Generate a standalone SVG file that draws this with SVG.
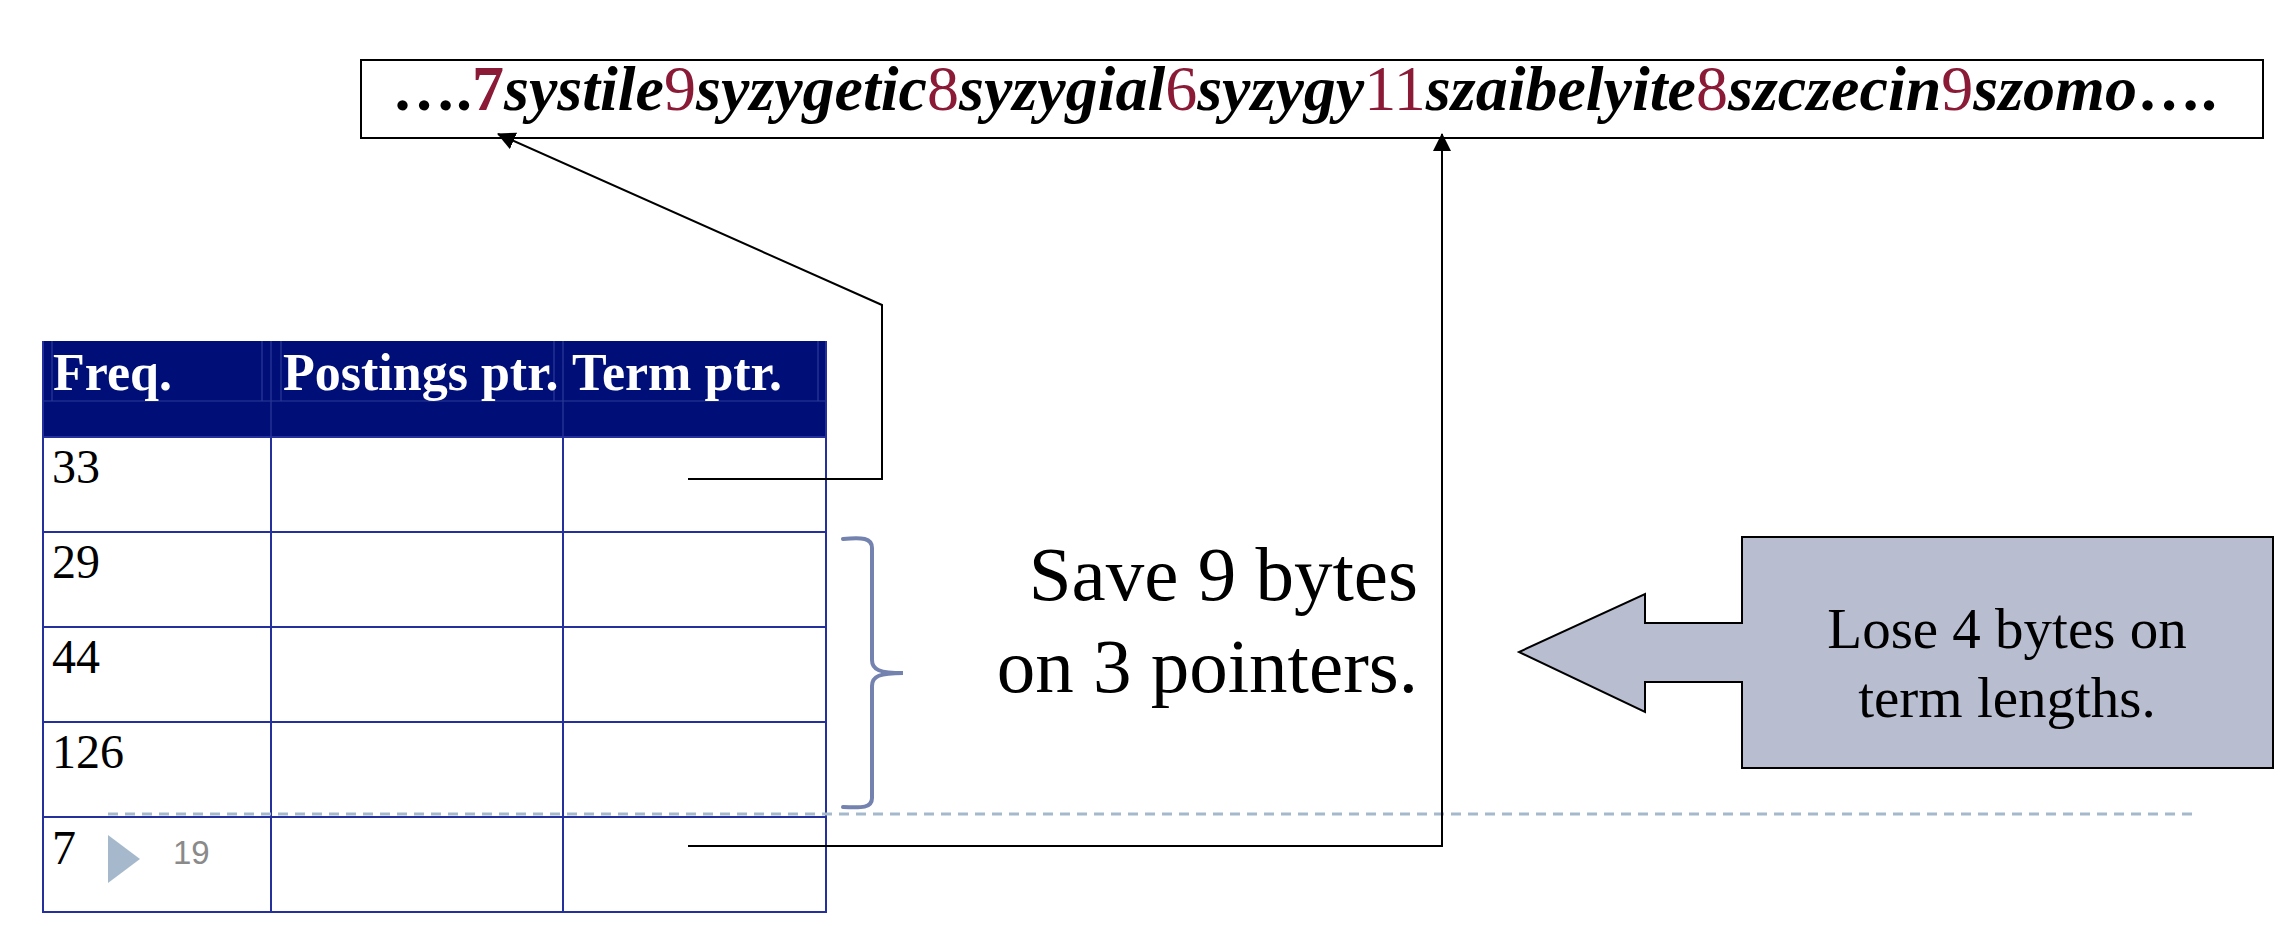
<svg xmlns="http://www.w3.org/2000/svg" width="2280" height="926" viewBox="0 0 2280 926">
<defs>
<style>
.serif{font-family:"Liberation Serif","Times New Roman",serif}
.hdr{font-family:"Liberation Serif","Times New Roman",serif;font-weight:bold;font-size:52px;fill:#ffffff}
.cell{font-family:"Liberation Serif","Times New Roman",serif;font-size:48px;fill:#000000}
.grid{stroke:#24309c;stroke-width:2;fill:none}
.hgrid{stroke:#2a3a96;stroke-width:1.2;fill:none}
.conn{stroke:#000000;stroke-width:2;fill:none}
.num{fill:#8b1a36;font-style:normal;font-weight:normal}
.bnum{fill:#8b1a36;font-style:normal;font-weight:bold}
.word{font-style:italic;font-weight:bold;fill:#000000}
</style>
<marker id="arr" markerUnits="userSpaceOnUse" markerWidth="18" markerHeight="18" refX="17" refY="9" orient="auto">
<path d="M0,0 L18,9 L0,18 Z" fill="#000000"/>
</marker>
</defs>
<rect x="0" y="0" width="2280" height="926" fill="#ffffff"/>

<g id="strip">
<rect x="361" y="60" width="1902" height="78" fill="#ffffff" stroke="#000000" stroke-width="2"/>
<text class="serif" x="392" y="110" font-size="64" font-weight="bold">….<tspan class="bnum">7</tspan><tspan class="word">systile</tspan><tspan class="num">9</tspan><tspan class="word">syzygetic</tspan><tspan class="num">8</tspan><tspan class="word">syzygial</tspan><tspan class="num">6</tspan><tspan class="word">syzygy</tspan><tspan class="num">11</tspan><tspan class="word">szaibelyite</tspan><tspan class="num">8</tspan><tspan class="word">szczecin</tspan><tspan class="num">9</tspan><tspan class="word">szomo</tspan>….</text>
</g>

<g id="table">
<rect x="43" y="341" width="783" height="96" fill="#000f78"/>
<path class="hgrid" d="M43,401 H826 M52,341 V401 M262,341 V401 M281,341 V401 M554,341 V401 M818,341 V401 M271,341 V437 M563,341 V437"/>
<text class="hdr" x="53" y="390">Freq.</text>
<text class="hdr" x="283" y="390">Postings ptr.</text>
<text class="hdr" x="572" y="390">Term ptr.</text>
<rect x="43" y="437" width="783" height="475" fill="#ffffff"/>
<path class="grid" d="M43,341 V912 H826 V341 M271,437 V912 M563,437 V912 M43,437 H826 M43,532 H826 M43,627 H826 M43,722 H826 M43,817 H826"/>
<text class="cell" x="52" y="483">33</text>
<text class="cell" x="52" y="578">29</text>
<text class="cell" x="52" y="673">44</text>
<text class="cell" x="52" y="768">126</text>
<text class="cell" x="52" y="864">7</text>
</g>

<g id="footer">
<line x1="108" y1="814" x2="2196" y2="814" stroke="#a6b9cc" stroke-width="3" stroke-dasharray="10 7"/>
<polygon points="108,835 140,859 108,883" fill="#a6b9cc"/>
<text x="173" y="864" font-family="Liberation Sans, Arial, sans-serif" font-size="33" fill="#8a8a8a">19</text>
</g>

<g id="brace">
<path d="M843,539 C862,537 872,538 872,548 L872,660 C872,670 880,673 903,673 C880,673 872,676 872,686 L872,798 C872,808 862,808 843,807" fill="none" stroke="#7382ae" stroke-width="4" stroke-linecap="round"/>
</g>

<g id="save">
<text class="serif" font-size="77" text-anchor="end" fill="#000000"><tspan x="1418" y="600">Save 9 bytes</tspan><tspan x="1418" y="692">on 3 pointers.</tspan></text>
</g>

<g id="callout">
<polygon points="1742,537 2273,537 2273,768 1742,768 1742,682 1645,682 1645,712 1519,652 1645,594 1645,623 1742,623" fill="#b8bdcf" stroke="#000000" stroke-width="2"/>
<text class="serif" font-size="57" text-anchor="middle" fill="#000000"><tspan x="2007" y="648">Lose 4 bytes on</tspan><tspan x="2007" y="717">term lengths.</tspan></text>
</g>

<g id="connectors">
<path class="conn" d="M688,479 H882 V305 L498,134" marker-end="url(#arr)"/>
<path class="conn" d="M688,846 H1442 V134" marker-end="url(#arr)"/>
</g>
</svg>
